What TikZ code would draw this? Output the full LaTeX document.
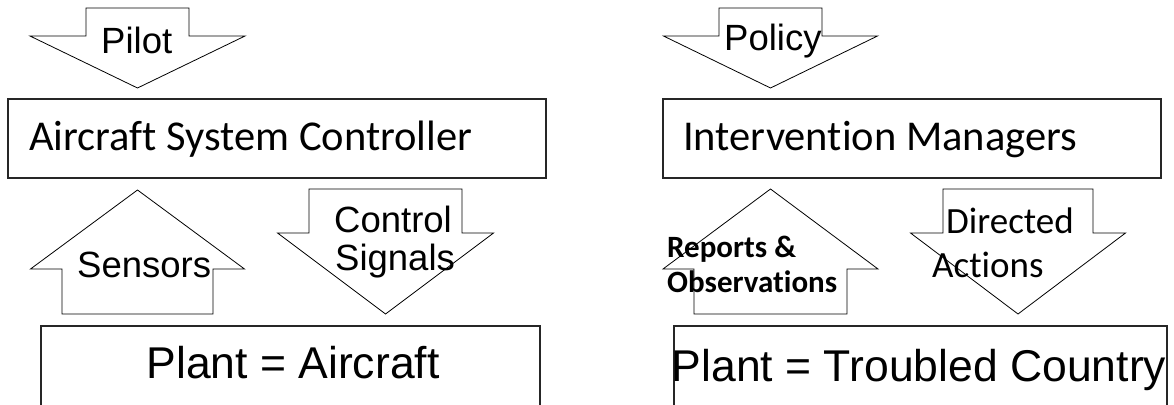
\documentclass[tikz,border=0pt]{standalone}
\usepackage{fontspec}
\setmainfont{Liberation Sans}
\newfontfamily\calibri[Ligatures=NoCommon]{Carlito}
\usetikzlibrary{positioning}
% block arrow: centre x, stem half width, head half width, stem end y, shoulder y, tip y
\newcommand\blockarrow[6]{\draw[blockline] ({#1-#2},#4) -- ({#1+#2},#4) -- ({#1+#2},#5) -- ({#1+#3},#5) -- (#1,#6) -- ({#1-#3},#5) -- ({#1-#2},#5) -- cycle;}

\begin{document}
\begin{tikzpicture}[x=1pt,y=-1pt,
	blockline/.style={line width=0.8pt},
	boxline/.style={line width=1.1pt, draw=black!85},
	lbl/.style={inner sep=0pt, anchor=base west},
	armtext/.style={lbl, font=\fontsize{36.5}{40}\selectfont},
	boxtext/.style={lbl, font=\calibri\fontsize{42.5}{50}\selectfont},
	planttext/.style={inner sep=0pt, anchor=base, font=\fontsize{44.5}{50}\selectfont}]
			%%%%% START %%%%%
			\clip (0,0) rectangle (1174,404);
			
			% left side: aircraft
			\node[boxline, draw, minimum width=538pt, minimum height=79pt, inner sep=0pt] (asc) at (277,138.5) {};
			\node[boxtext] (asctext) at (29,150) {Aircraft System Controller};
			
			\blockarrow{137.5}{51.5}{107.5}{8}{36}{88}
			\node[armtext] (pilot) at (101,54) {Pilot};
			
			\blockarrow{137.5}{75.5}{107}{314}{269}{190}
			\node[armtext] (sensors) at (77,277) {Sensors};
			
			\blockarrow{385.5}{76.5}{108}{189}{233}{314}
			\node[armtext] (control) at (334,232) {Control};
			\node[armtext] (signals) at (335,270) {Signals};
			
			\draw[boxline] (41,420) rectangle (540,326);
			\node[planttext] (plantair) at (293,378) {Plant = Aircraft};
			
			% right side: troubled country
			\node[boxline, draw, minimum width=498pt, minimum height=79pt, inner sep=0pt] (im) at (912,138.5) {};
			\node[boxtext] (imtext) at (683,150) {Intervention Managers};
			
			\blockarrow{770.5}{51.5}{107}{8}{36}{88}
			\node[armtext] (policy) at (724,51) {Policy};
			
			\blockarrow{770.5}{76.5}{107.5}{314}{269}{189}
			\node[lbl, font=\calibri\bfseries\fontsize{31}{34}\selectfont] (reports) at (667,257) {Reports \&};
			\node[lbl, font=\calibri\bfseries\fontsize{31}{34}\selectfont] (observ) at (667,292) {Observations};
			
			\blockarrow{1018}{75}{107.5}{189}{233}{314}
			\node[lbl, font=\calibri\fontsize{37}{40}\selectfont] (directed) at (946,233) {Directed};
			\node[lbl, font=\calibri\fontsize{37}{40}\selectfont] (actions) at (932,277) {Actions};
			
			\draw[boxline] (674,420) rectangle (1167,326);
			\node[planttext] (planttc) at (919,381) {Plant = Troubled Country};
			%%%%% END %%%%%
\end{tikzpicture}
\end{document}
